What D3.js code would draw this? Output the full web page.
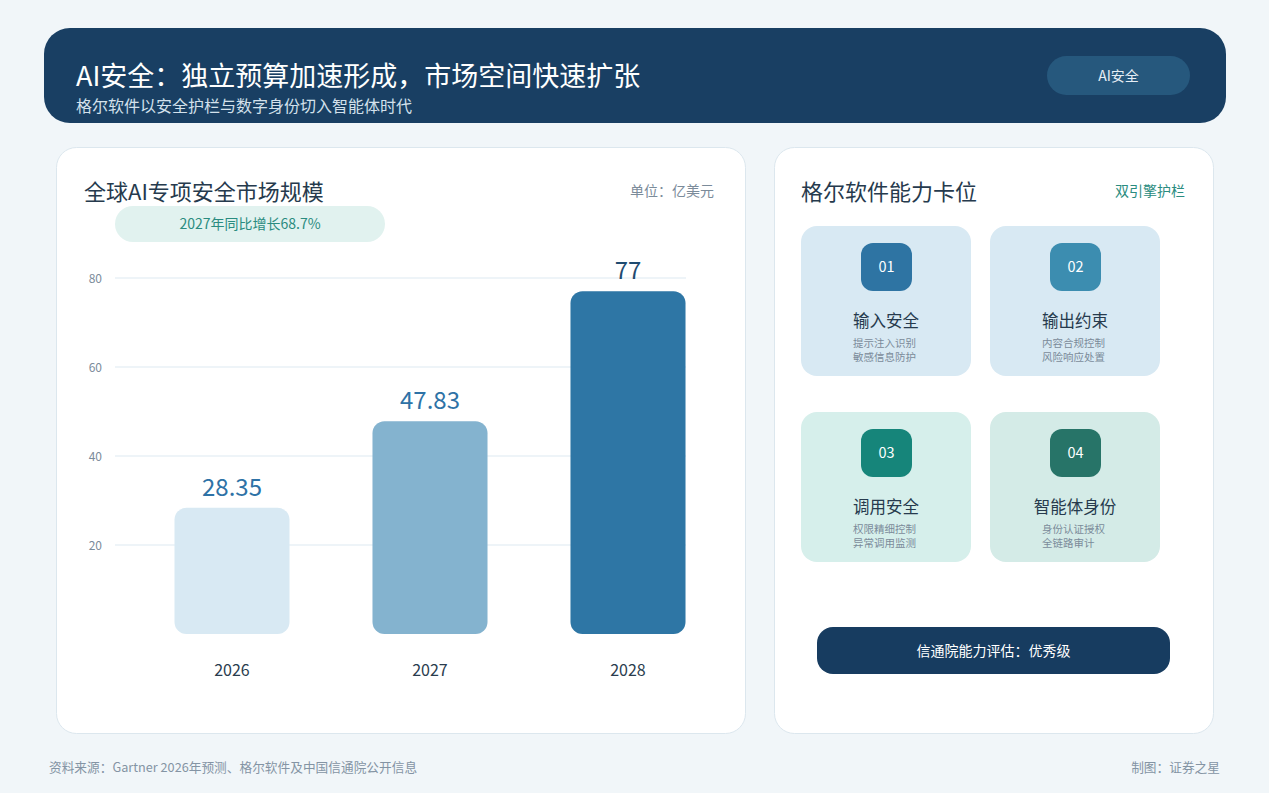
<!DOCTYPE html>
<html><head><meta charset="utf-8">
<script src="https://cdn.jsdelivr.net/npm/d3@7"></script>
<style>
html,body{margin:0;padding:0;background:#f1f6f9;}
svg{display:block;font-family:"Noto Sans CJK SC","Noto Sans",sans-serif;}
</style></head>
<body>
<svg id="c" width="1269" height="793"></svg>
<script>
const years = ["2026","2027","2028"];
const marketValues = [28.35, 47.83, 77];
const valueLabels = ["28.35","47.83","77"];
const yTicks = [20, 40, 60, 80];
const barColors = ["#d8e9f3","#84b3cf","#2e76a5"];
const labelColors = ["#2e72a6","#2e72a6","#1f4b70"];

const capNums = ["01","02","03","04"];
const capTitles = ["输入安全","输出约束","调用安全","智能体身份"];
const capLine1 = ["提示注入识别","内容合规控制","权限精细控制","身份认证授权"];
const capLine2 = ["敏感信息防护","风险响应处置","异常调用监测","全链路审计"];
const capCardFill = ["#d8e9f3","#d8e9f3","#d6efeb","#d4ebe7"];
const capIconFill = ["#2e74a3","#3c8db0","#16857a","#277468"];

const svg = d3.select("#c");

// Header
svg.append("rect").attr("x",44).attr("y",28).attr("width",1182).attr("height",95).attr("rx",26).attr("fill","#193f63");
svg.append("text").attr("x",76).attr("y",86).attr("font-size",27).attr("fill","#ffffff").text("AI安全：独立预算加速形成，市场空间快速扩张");
svg.append("text").attr("x",76).attr("y",112).attr("font-size",16).attr("fill","#d3e1ec").text("格尔软件以安全护栏与数字身份切入智能体时代");
svg.append("rect").attr("x",1047).attr("y",56).attr("width",143).attr("height",39).attr("rx",19.5).attr("fill","#26587d");
svg.append("text").attr("x",1118.5).attr("y",80.5).attr("text-anchor","middle").attr("font-size",14).attr("fill","#e6eef5").text("AI安全");

// Left card
svg.append("rect").attr("x",56.5).attr("y",147.5).attr("width",689).attr("height",586).attr("rx",20).attr("fill","#ffffff").attr("stroke","#dce7ee");
svg.append("text").attr("x",84).attr("y",200).attr("font-size",22).attr("fill","#263a4d").text("全球AI专项安全市场规模");
svg.append("text").attr("x",714).attr("y",196).attr("text-anchor","end").attr("font-size",14).attr("fill","#7b8b9a").text("单位：亿美元");
svg.append("rect").attr("x",115).attr("y",206).attr("width",270).attr("height",36).attr("rx",18).attr("fill","#e1f2ef");
svg.append("text").attr("x",250).attr("y",229).attr("text-anchor","middle").attr("font-size",14).attr("fill","#2a8c80").text("2027年同比增长68.7%");

const y = d3.scaleLinear().domain([0,80]).range([634,278]);
const x = d3.scaleBand().domain(years).range([133,727]).paddingInner(0.419).paddingOuter(0.2095);

const grid = svg.append("g");
grid.selectAll("line").data(yTicks).join("line")
  .attr("x1",115).attr("x2",686).attr("y1",d=>y(d)).attr("y2",d=>y(d))
  .attr("stroke","#dde9f1").attr("stroke-width",1);
const yAxis = svg.append("g").attr("transform","translate(102,0)")
  .call(d3.axisLeft(y).tickValues(yTicks).tickSize(0).tickPadding(0));
yAxis.select(".domain").remove();
yAxis.selectAll("text").attr("font-size",12).attr("fill","#7b8b9a").attr("font-family","'Noto Sans CJK SC',sans-serif").attr("dy","0.35em");

const data = years.map((yr,i)=>({yr, v:marketValues[i], lbl:valueLabels[i], c:barColors[i], lc:labelColors[i]}));
svg.append("g").selectAll("rect").data(data).join("rect")
  .attr("x",d=>x(d.yr)).attr("y",d=>y(d.v)).attr("width",x.bandwidth()).attr("height",d=>y(0)-y(d.v))
  .attr("rx",12).attr("fill",d=>d.c);
svg.append("g").selectAll("text").data(data).join("text")
  .attr("x",d=>x(d.yr)+x.bandwidth()/2).attr("y",d=>y(d.v)-12)
  .attr("text-anchor","middle").attr("font-size",24).attr("fill",d=>d.lc).text(d=>d.lbl);

const xAxis = svg.append("g").attr("transform","translate(0,662)")
  .call(d3.axisBottom(x).tickSize(0).tickPadding(0));
xAxis.select(".domain").remove();
xAxis.selectAll("text").attr("font-size",16).attr("fill","#2a3c4e").attr("font-family","'Noto Sans CJK SC',sans-serif").attr("dy","0.9em");

// Right card
svg.append("rect").attr("x",774.5).attr("y",147.5).attr("width",439).attr("height",586).attr("rx",20).attr("fill","#ffffff").attr("stroke","#dce7ee");
svg.append("text").attr("x",801).attr("y",200).attr("font-size",22).attr("fill","#263a4d").text("格尔软件能力卡位");
svg.append("text").attr("x",1185).attr("y",196).attr("text-anchor","end").attr("font-size",14).attr("fill","#2a8c80").text("双引擎护栏");

const caps = capNums.map((n,i)=>({n, t:capTitles[i], l1:capLine1[i], l2:capLine2[i], f:capCardFill[i], ic:capIconFill[i], cx:801+(i%2)*189, cy:226+Math.floor(i/2)*186}));
const cg = svg.append("g").selectAll("g").data(caps).join("g").attr("transform",d=>`translate(${d.cx},${d.cy})`);
cg.append("rect").attr("width",170).attr("height",150).attr("rx",16).attr("fill",d=>d.f);
cg.append("rect").attr("x",60).attr("y",17).attr("width",51).attr("height",48).attr("rx",12).attr("fill",d=>d.ic);
cg.append("text").attr("x",85.5).attr("y",46).attr("text-anchor","middle").attr("font-size",14.5).attr("fill","#ffffff").text(d=>d.n);
cg.append("text").attr("x",85).attr("y",101).attr("text-anchor","middle").attr("font-size",16.5).attr("fill","#263a4d").text(d=>d.t);
cg.append("text").attr("x",52).attr("y",121).attr("font-size",10.5).attr("fill","#7b8b9a").text(d=>d.l1);
cg.append("text").attr("x",52).attr("y",135).attr("font-size",10.5).attr("fill","#7b8b9a").text(d=>d.l2);

svg.append("rect").attr("x",817).attr("y",627).attr("width",353).attr("height",47).attr("rx",16).attr("fill","#173c60");
svg.append("text").attr("x",993.5).attr("y",656).attr("text-anchor","middle").attr("font-size",14).attr("fill","#ffffff").text("信通院能力评估：优秀级");

// Footer
svg.append("text").attr("x",49).attr("y",772).attr("font-size",12.7).attr("fill","#8494a4").text("资料来源：Gartner 2026年预测、格尔软件及中国信通院公开信息");
svg.append("text").attr("x",1220).attr("y",772).attr("text-anchor","end").attr("font-size",12.7).attr("fill","#8494a4").text("制图：证券之星");
</script>
</body></html>
